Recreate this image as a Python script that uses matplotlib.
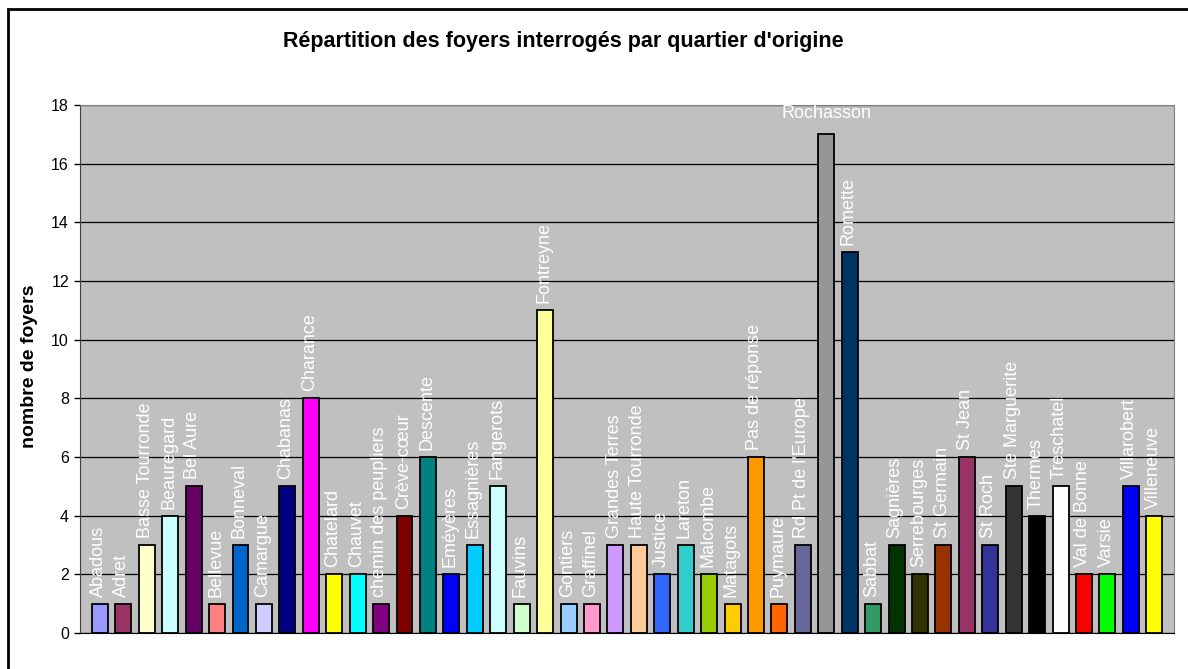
import matplotlib.pyplot as plt
from matplotlib.patches import Rectangle

plt.rcParams['font.family'] = ['Liberation Sans', 'DejaVu Sans']

# Quartiers and number of households
quartiers = ["Abadous", "Adret", "Basse Tourronde", "Beauregard", "Bel Aure", "Bellevue",
             "Bonneval", "Camargue", "Chabanas", "Charance", "Chatelard", "Chauvet",
             "chemin des peupliers", "Crève-cœur", "Descente", "Eméyères", "Essagnières",
             "Fangerots", "Fauvins", "Fontreyne", "Gontiers", "Graffinel", "Grandes Terres",
             "Haute Tourronde", "Justice", "Lareton", "Malcombe", "Matagots", "Pas de réponse",
             "Puymaure", "Rd Pt de l'Europe", "Rochasson", "Romette", "Sabbat", "Sagnières",
             "Serrebourges", "St Germain", "St Jean", "St Roch", "Ste Marguerite", "Thermes",
             "Treschatel", "Val de Bonne", "Varsie", "Villarobert", "Villeneuve"]
foyers = [1, 1, 3, 4, 5, 1, 3, 1, 5, 8, 2, 2, 1, 4, 6, 2, 3, 5, 1, 11, 1, 1, 3, 3, 2, 3,
          2, 1, 6, 1, 3, 17, 13, 1, 3, 2, 3, 6, 3, 5, 4, 5, 2, 2, 5, 4]
couleurs = ["#9999FF", "#993366", "#FFFFCC", "#CCFFFF", "#660066", "#FF8080", "#0066CC",
            "#CCCCFF", "#000080", "#FF00FF", "#FFFF00", "#00FFFF", "#800080", "#800000",
            "#008080", "#0000FF", "#00CCFF", "#CCFFFF", "#CCFFCC", "#FFFF99", "#99CCFF",
            "#FF99CC", "#CC99FF", "#FFCC99", "#3366FF", "#33CCCC", "#99CC00", "#FFCC00",
            "#FF9900", "#FF6600", "#666699", "#969696", "#003366", "#339966", "#003300",
            "#333300", "#993300", "#993366", "#333399", "#333333", "#000000", "#FFFFFF",
            "#FF0000", "#00FF00", "#0000FF", "#FFFF00"]

W, H = 1188, 669
fig = plt.figure(figsize=(W / 100, H / 100), dpi=100)
ax = fig.add_axes([80 / W, 1 - 633 / H, (1174 - 80) / W, (633 - 105) / H])
ax.set_facecolor('#C0C0C0')

x = list(range(len(quartiers)))
ax.bar(x, foyers, width=0.68, color=couleurs, edgecolor='black', linewidth=1.3, zorder=3)

# data labels
for xi, v, name in zip(x, foyers, quartiers):
    if name == "Rochasson":
        ax.annotate(name, (xi, v), xytext=(0, 9), textcoords='offset points',
                    ha='center', va='bottom', color='white', fontsize=13, zorder=4)
    else:
        ax.annotate(name, (xi, v), xytext=(-1, 5), textcoords='offset points',
                    ha='center', va='bottom', rotation=90, color='white',
                    fontsize=13, zorder=4)

ax.set_xlim(-0.85, len(quartiers) - 1 + 0.84)
ax.set_ylim(0, 18)
ax.set_yticks(range(0, 19, 2))
ax.tick_params(axis='y', labelsize=11.5, length=4, width=1, pad=4)
ax.set_xticks([])
ax.yaxis.grid(True, color='black', linewidth=0.9, zorder=1)
ax.set_axisbelow(True)
for s in ['top', 'right']:
    ax.spines[s].set_color('#808080')
ax.spines['left'].set_color('#404040')
ax.spines['bottom'].set_color('black')

fig.text(563 / W, 1 - 41 / H, "Répartition des foyers interrogés par quartier d'origine",
         ha='center', va='center', fontsize=15.5, fontweight='bold')
fig.text(30 / W, 1 - 366 / H, "nombre de foyers", rotation=90, ha='center', va='center',
         fontsize=14, fontweight='bold')

# outer chart border
fig.patches.append(Rectangle((8 / W, -0.05), 1.1, 1 - 9 / H + 0.05, transform=fig.transFigure,
                             fill=False, edgecolor='black', linewidth=2))

fig.savefig('out.png', dpi=100)
